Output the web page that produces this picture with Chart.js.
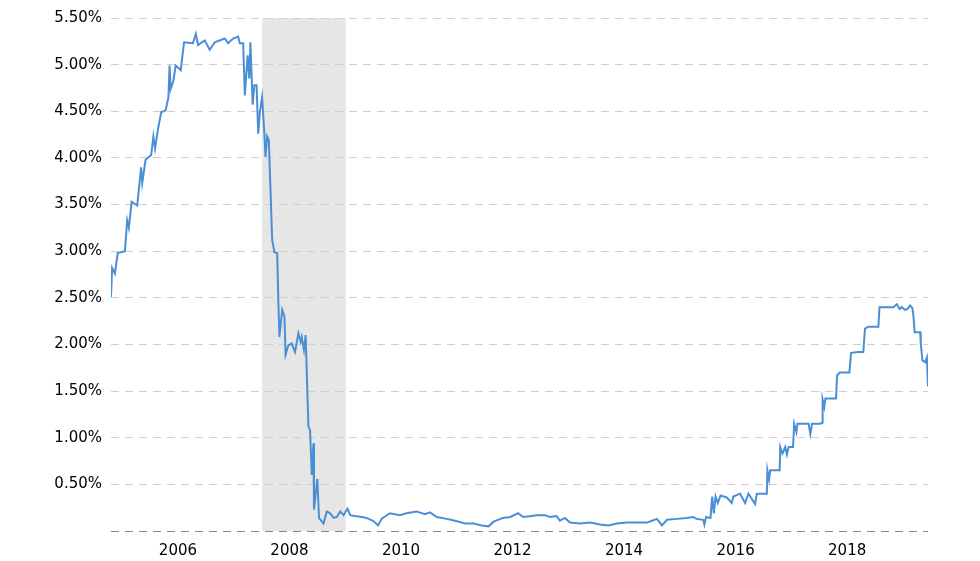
<!DOCTYPE html>
<html>
<head>
<meta charset="utf-8">
<script src="https://cdn.jsdelivr.net/npm/chart.js@4"></script>
<style>
  html, body { margin: 0; padding: 0; background: #fff; }
  #wrap { width: 980px; height: 561px; position: relative; }
</style>
</head>
<body>
<div id="wrap"><canvas id="rateChart"></canvas></div>
<script>
// --- Data (decimal years / percent) ---
const dates = [
  2004.80, 2004.82, 2004.87, 2004.92, 2005.05, 2005.09, 2005.12, 2005.17, 2005.27, 2005.34,
  2005.36, 2005.42, 2005.52, 2005.56, 2005.59, 2005.64, 2005.70, 2005.78, 2005.83, 2005.85,
  2005.87, 2005.92, 2005.96, 2006.05, 2006.11, 2006.27, 2006.32, 2006.36, 2006.48, 2006.57,
  2006.66, 2006.84, 2006.90, 2006.99, 2007.08, 2007.11, 2007.17, 2007.20, 2007.25, 2007.28,
  2007.30, 2007.34, 2007.37, 2007.41, 2007.44, 2007.47, 2007.51, 2007.55, 2007.57, 2007.60,
  2007.63, 2007.67, 2007.69, 2007.73, 2007.78, 2007.80, 2007.82, 2007.87, 2007.91, 2007.93,
  2007.98, 2008.04, 2008.10, 2008.16, 2008.20, 2008.22, 2008.26, 2008.29, 2008.34, 2008.37,
  2008.40, 2008.43, 2008.44, 2008.50, 2008.53, 2008.61, 2008.67, 2008.73, 2008.79, 2008.85,
  2008.91, 2008.97, 2009.04, 2009.09, 2009.17, 2009.30, 2009.38, 2009.50, 2009.59, 2009.65,
  2009.80, 2009.98, 2010.10, 2010.28, 2010.43, 2010.52, 2010.64, 2010.82, 2010.97, 2011.15,
  2011.30, 2011.45, 2011.57, 2011.66, 2011.83, 2011.96, 2012.10, 2012.19, 2012.34, 2012.43,
  2012.58, 2012.67, 2012.79, 2012.85, 2012.94, 2013.03, 2013.21, 2013.39, 2013.57, 2013.72,
  2013.87, 2014.05, 2014.23, 2014.41, 2014.50, 2014.59, 2014.68, 2014.77, 2014.95, 2015.12,
  2015.24, 2015.30, 2015.42, 2015.44, 2015.47, 2015.55, 2015.58, 2015.61, 2015.64, 2015.68,
  2015.73, 2015.84, 2015.93, 2015.96, 2016.08, 2016.17, 2016.23, 2016.35, 2016.38, 2016.56,
  2016.57, 2016.60, 2016.62, 2016.79, 2016.80, 2016.84, 2016.89, 2016.92, 2016.95, 2017.03,
  2017.05, 2017.09, 2017.11, 2017.31, 2017.34, 2017.37, 2017.52, 2017.55, 2017.56, 2017.59,
  2017.61, 2017.80, 2017.82, 2017.87, 2018.04, 2018.07, 2018.20, 2018.29, 2018.32, 2018.38,
  2018.56, 2018.58, 2018.83, 2018.89, 2018.94, 2018.98, 2019.04, 2019.08, 2019.13, 2019.17,
  2019.19, 2019.21, 2019.31, 2019.32, 2019.35, 2019.40, 2019.43, 2019.45,
];
const rates = [
  2.51, 2.82, 2.76, 2.98, 3.00, 3.33, 3.25, 3.53, 3.49, 3.90,
  3.73, 3.98, 4.03, 4.23, 4.10, 4.30, 4.49, 4.51, 4.65, 4.99,
  4.74, 4.83, 4.99, 4.94, 5.24, 5.23, 5.33, 5.21, 5.26, 5.16,
  5.24, 5.28, 5.23, 5.28, 5.30, 5.23, 5.23, 4.67, 5.10, 4.85,
  5.24, 4.57, 4.78, 4.78, 4.26, 4.49, 4.65, 4.26, 4.01, 4.23,
  4.19, 3.48, 3.12, 2.99, 2.98, 2.48, 2.08, 2.37, 2.30, 1.89,
  1.99, 2.01, 1.92, 2.12, 2.03, 2.08, 1.94, 2.10, 1.12, 1.08,
  0.60, 0.94, 0.23, 0.56, 0.14, 0.08, 0.21, 0.19, 0.14, 0.15,
  0.21, 0.17, 0.24, 0.17, 0.16, 0.15, 0.14, 0.11, 0.06, 0.13,
  0.19, 0.17, 0.19, 0.21, 0.18, 0.20, 0.15, 0.13, 0.11, 0.08,
  0.08, 0.06, 0.05, 0.10, 0.14, 0.15, 0.19, 0.15, 0.16, 0.17,
  0.17, 0.15, 0.16, 0.11, 0.14, 0.09, 0.08, 0.09, 0.07, 0.06,
  0.08, 0.09, 0.09, 0.09, 0.11, 0.13, 0.06, 0.12, 0.13, 0.14,
  0.15, 0.13, 0.12, 0.07, 0.15, 0.14, 0.37, 0.19, 0.37, 0.30,
  0.38, 0.36, 0.30, 0.37, 0.40, 0.30, 0.40, 0.29, 0.40, 0.40,
  0.65, 0.55, 0.65, 0.65, 0.90, 0.83, 0.90, 0.82, 0.90, 0.90,
  1.15, 1.06, 1.15, 1.15, 1.04, 1.15, 1.15, 1.16, 1.41, 1.33,
  1.42, 1.42, 1.67, 1.70, 1.70, 1.91, 1.92, 1.92, 2.17, 2.19,
  2.19, 2.40, 2.40, 2.43, 2.38, 2.40, 2.37, 2.38, 2.42, 2.39,
  2.30, 2.13, 2.13, 2.01, 1.83, 1.81, 1.86, 1.55,
];
const yearTicks = [2006, 2008, 2010, 2012, 2014, 2016, 2018];
const recessionStart = 2007.51;
const recessionEnd = 2009.01;

// --- Recession shading, drawn under the grid ---
const recessionBand = {
  id: "recessionBand",
  beforeDraw(chart) {
    const { ctx, chartArea, scales } = chart;
    const x0 = scales.x.getPixelForValue(recessionStart);
    const x1 = scales.x.getPixelForValue(recessionEnd);
    ctx.save();
    ctx.fillStyle = "#e6e6e6";
    ctx.fillRect(x0, chartArea.top, x1 - x0, chartArea.bottom - chartArea.top);
    ctx.restore();
  },
};

const points = dates.map((d, i) => ({ x: d, y: rates[i] }));

new Chart(document.getElementById("rateChart"), {
  type: "line",
  data: {
    datasets: [
      {
        data: points,
        borderColor: "#4a8fd6",
        borderWidth: 2,
        pointRadius: 0,
        tension: 0,
      },
    ],
  },
  options: {
    responsive: true,
    maintainAspectRatio: false,
    animation: false,
    layout: { padding: { top: 18, right: 52, left: 0, bottom: 0 } },
    plugins: { legend: { display: false }, tooltip: { enabled: false } },
    scales: {
      x: {
        type: "linear",
        min: 2004.8,
        max: 2019.45,
        afterBuildTicks: (axis) => {
          axis.ticks = yearTicks.map((v) => ({ value: v }));
        },
        afterFit: (axis) => {
          axis.height = 30;
        },
        grid: { display: false },
        border: { display: false },
        ticks: {
          color: "#000",
          font: { family: "DejaVu Sans", size: 15 },
          padding: 3,
          maxRotation: 0,
          callback: (v) => String(v),
        },
      },
      y: {
        min: 0,
        max: 5.5,
        afterFit: (axis) => {
          axis.width = 111;
        },
        grid: {
          drawTicks: false,
          color: (c) => (c.tick && c.tick.value === 0 ? "#888888" : "#cfcfcf"),
          lineWidth: 1,
        },
        border: { display: false, dash: [8, 6] },
        ticks: {
          stepSize: 0.5,
          color: "#000",
          font: { family: "DejaVu Sans", size: 15 },
          padding: 9,
          callback: (v) => (v === 0 ? "" : v.toFixed(2) + "%"),
        },
      },
    },
  },
  plugins: [recessionBand],
});
</script>
</body>
</html>
